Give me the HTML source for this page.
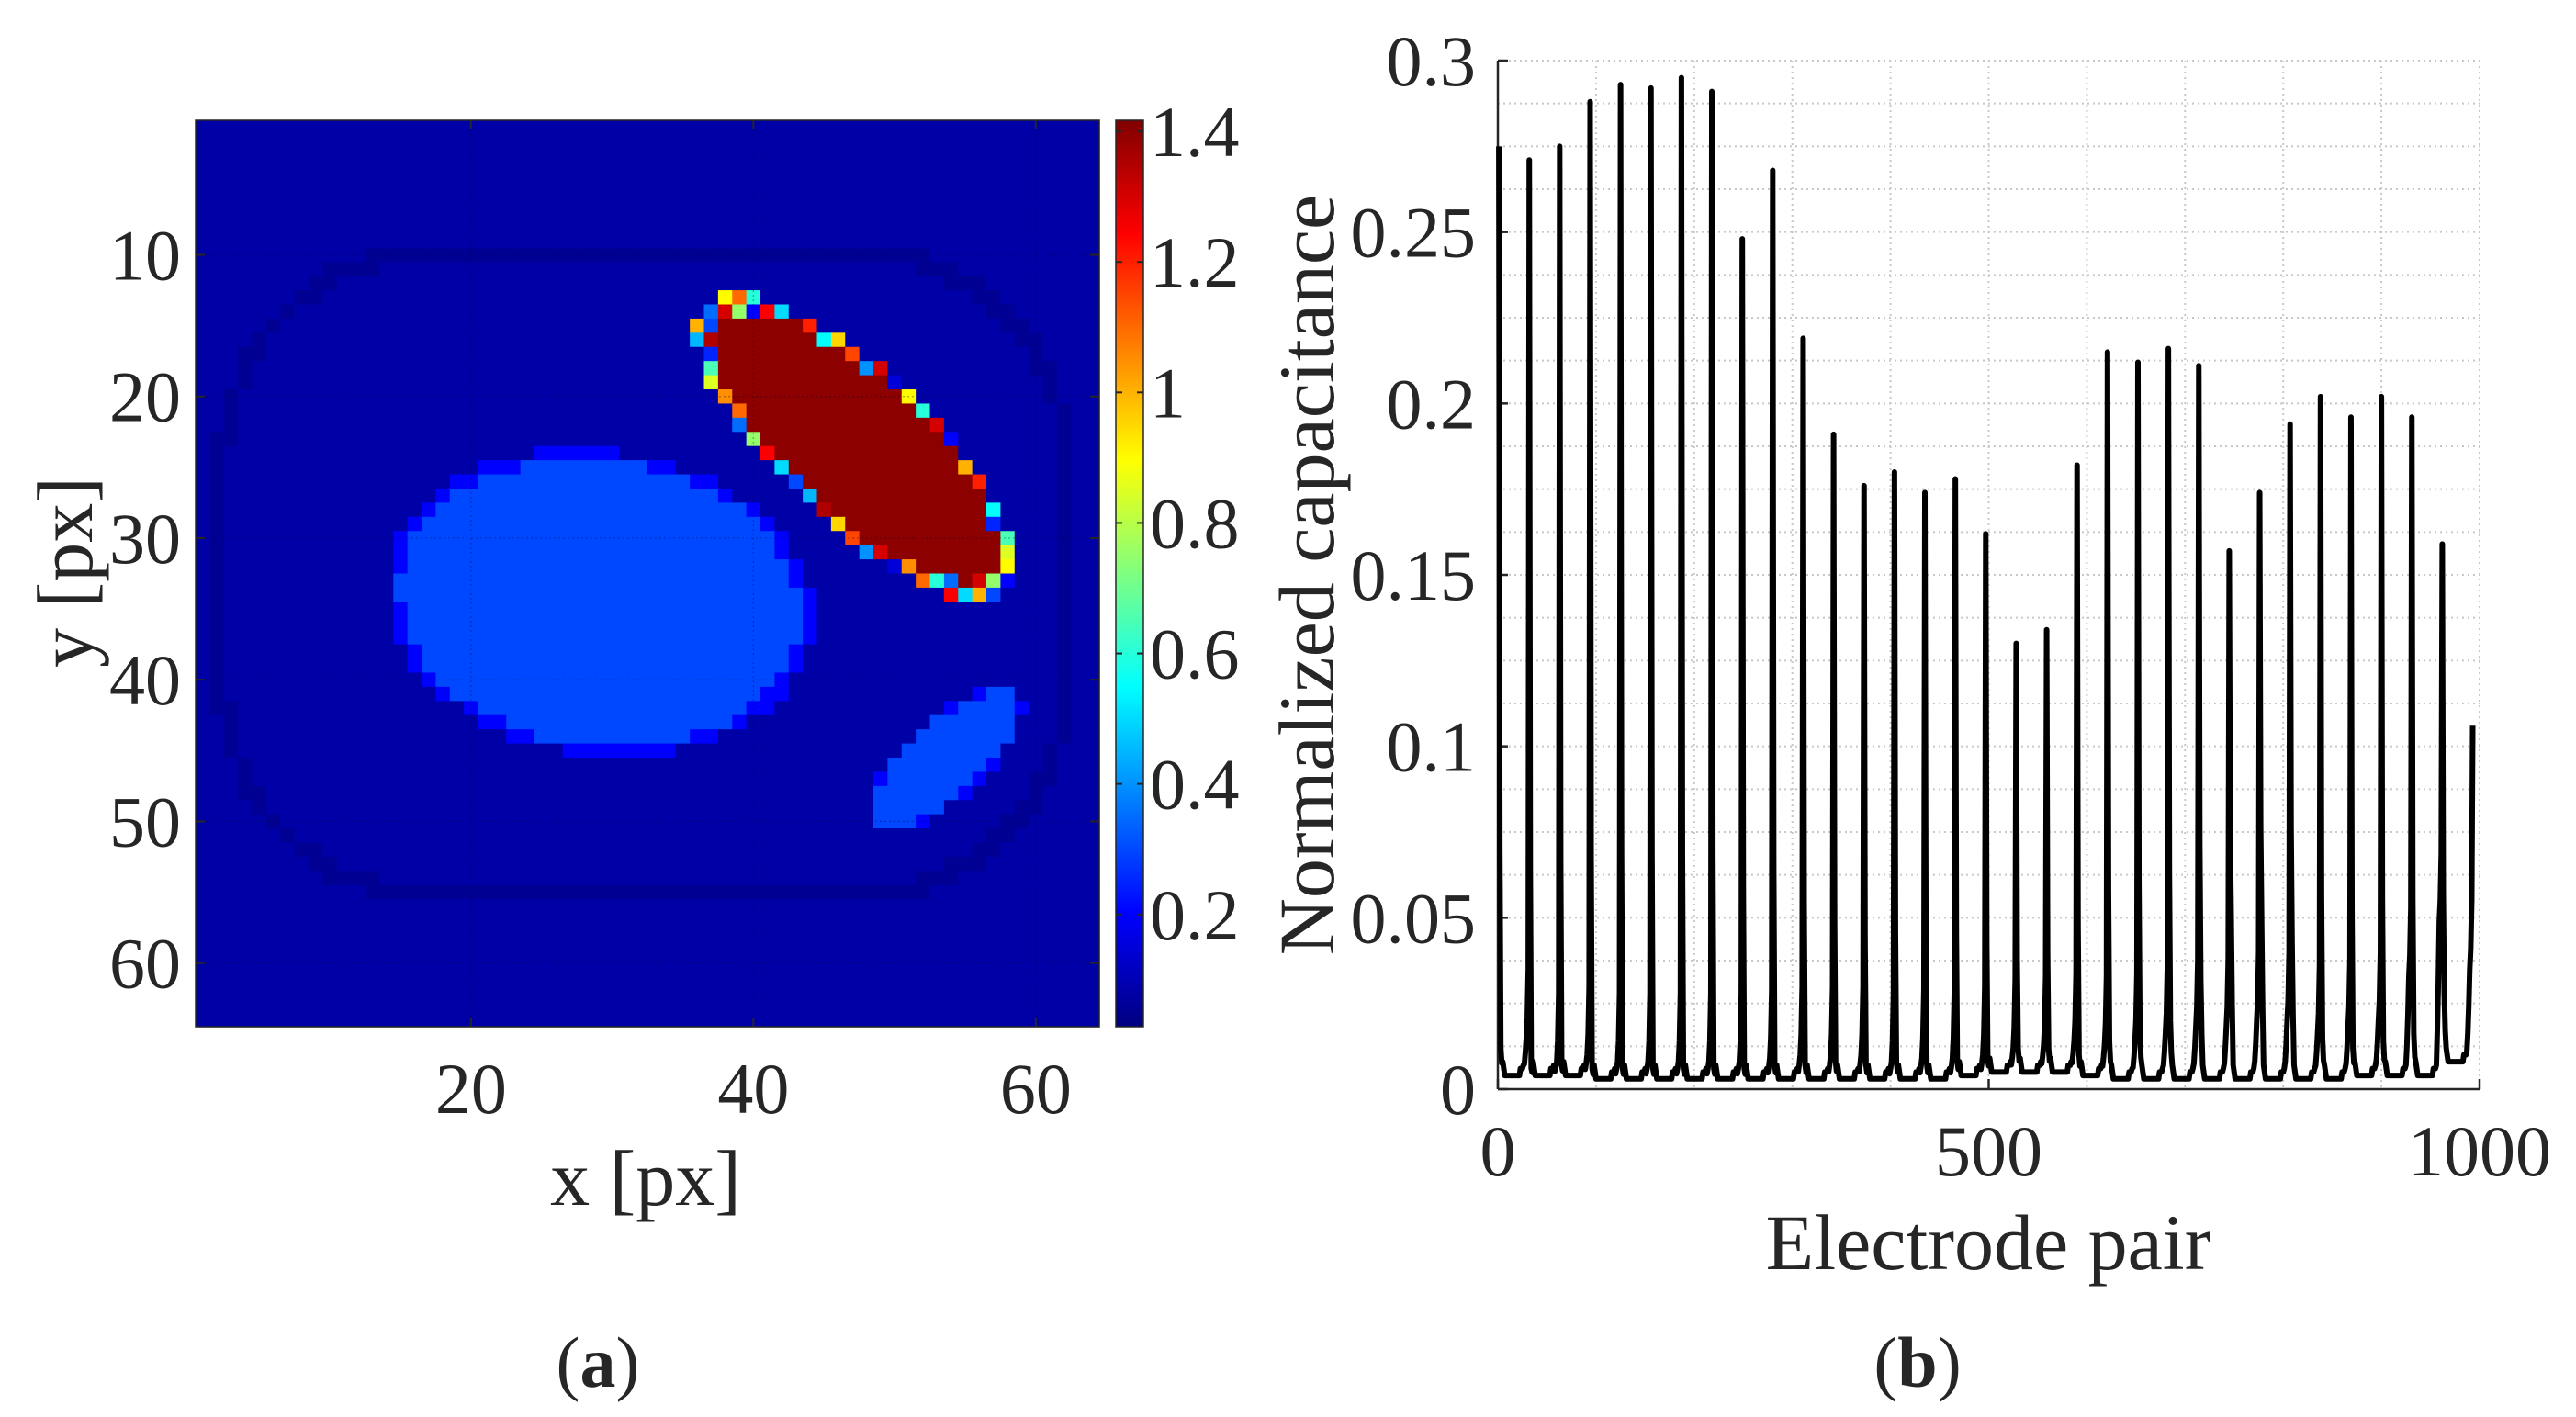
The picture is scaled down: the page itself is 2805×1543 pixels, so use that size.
<!DOCTYPE html>
<html><head><meta charset="utf-8">
<style>
html,body{margin:0;padding:0;background:#fff;}
svg{display:block;}
text{font-family:"Liberation Serif",serif;fill:#262626;}
</style></head>
<body>
<svg id="fig" width="2805" height="1543" viewBox="0 0 2805 1543" xmlns="http://www.w3.org/2000/svg">
  <g id="heat"></g>
  <defs>
    <linearGradient id="jetgrad" x1="0" y1="1" x2="0" y2="0">
      <stop offset="0" stop-color="#000080"/>
      <stop offset="0.125" stop-color="#0000ff"/>
      <stop offset="0.375" stop-color="#00ffff"/>
      <stop offset="0.625" stop-color="#ffff00"/>
      <stop offset="0.875" stop-color="#ff0000"/>
      <stop offset="1" stop-color="#800000"/>
    </linearGradient>
  </defs>
  <rect x="1215" y="131" width="30" height="987" fill="url(#jetgrad)" stroke="#262626" stroke-width="1.5"/>
  <g id="cbticks"></g>
  <text x="703" y="1312" font-size="86" text-anchor="middle">x [px]</text>
  <text transform="translate(100,623) rotate(-90)" font-size="86" text-anchor="middle">y [px]</text>
  <text x="651" y="1510" font-size="78" text-anchor="middle">(<tspan font-weight="bold">a</tspan>)</text>

  <g id="line"></g>
  <text x="2165" y="1382" font-size="86" text-anchor="middle">Electrode pair</text>
  <text transform="translate(1452,626) rotate(-90)" font-size="86" text-anchor="middle">Normalized capacitance</text>
  <text x="2088" y="1510" font-size="78" text-anchor="middle">(<tspan font-weight="bold">b</tspan>)</text>
</svg>
<script>
// ---------- heatmap data ----------
const gridSize = 64;
const backgroundValue = 0.082;
const ringValue = 0.055;
const ringRect = [2.2, 10.0, 62.4, 55.0, 14, 16]; // x0,y0,x1,y1,rx,ry (cells)
const inclusionNames = ['large-ellipse','small-ellipse','red-ellipse'];
const inclusionCenters = [[29.1,34.6],[53.6,45.6],[47.3,23.6]];
const inclusionAxes = [[14.3,10.1],[6.6,2.6],[12.9,4.7]];
const inclusionAngles = [8,-42,43];
const inclusionValues = [0.3,0.3,1.4];
const edgeValues = [0.9,1.1,0.6,0.35,1.3,0.75,0.2,1.25,0.5,1.0,0.3,1.2,0.45,1.35,0.55,0.95,0.25,1.15,0.65,0.4,1.3,0.85,0.15,1.05];
const xTicksA = [20,40,60];
const yTicksA = [10,20,30,40,50,60];
const cbTicks = [0.2,0.4,0.6,0.8,1,1.2,1.4];
const cbLabels = ['0.2','0.4','0.6','0.8','1','1.2','1.4'];
const cMin = 0.028, cMax = 1.417;

// ---------- line data ----------
const peakValues = [0.275,0.271,0.275,0.288,0.293,0.292,0.295,0.291,0.248,0.268,0.219,0.191,0.176,0.180,0.174,0.178,0.162,0.130,0.134,0.182,0.215,0.212,0.216,0.211,0.157,0.174,0.194,0.202,0.196,0.202,0.196,0.159,0.106];
const postValues = [0.012,0.006,0.007,0.006,0.006,0.006,0.006,0.006,0.006,0.007,0.007,0.008,0.007,0.008,0.007,0.008,0.009,0.012,0.012,0.010,0.014,0.017,0.020,0.032,0.050,0.049,0.043,0.015,0.012,0.014,0.016,0.028];
const preValues = [0.015,0.008,0.010,0.008,0.008,0.008,0.008,0.008,0.009,0.010,0.010,0.010,0.008,0.009,0.009,0.010,0.012,0.013,0.014,0.013,0.014,0.016,0.018,0.018,0.020,0.020,0.016,0.018,0.020,0.033,0.049,0.035];
const baseValues = [0.004,0.004,0.004,0.003,0.003,0.003,0.003,0.003,0.003,0.003,0.003,0.003,0.003,0.003,0.003,0.004,0.005,0.005,0.005,0.004,0.003,0.003,0.003,0.003,0.003,0.003,0.003,0.003,0.004,0.004,0.004,0.008];
const xTicksB = [0,500,1000];
const yTicksB = [0,0.05,0.1,0.15,0.2,0.25,0.3];
const yTickLabelsB = ['0','0.05','0.1','0.15','0.2','0.25','0.3'];

const NS = 'http://www.w3.org/2000/svg';
function mk(tag, attrs, parent){const e=document.createElementNS(NS,tag);for(const k in attrs)e.setAttribute(k,attrs[k]);parent.appendChild(e);return e;}

function jet(v){
  let t=(v-cMin)/(cMax-cMin); t=Math.max(0,Math.min(1,t));
  const f=(x)=>Math.max(0,Math.min(1,x));
  const r=f(Math.min(4*t-1.5,-4*t+4.5)), g=f(Math.min(4*t-0.5,-4*t+3.5)), b=f(Math.min(4*t+0.5,-4*t+2.5));
  return 'rgb('+Math.round(r*255)+','+Math.round(g*255)+','+Math.round(b*255)+')';
}

// ---------- heatmap ----------
const hx0=213, hy0=131, hx1=1197, hy1=1118;
const cw=(hx1-hx0)/gridSize, ch=(hy1-hy0)/gridSize;
const xA = c => hx0 + (c-0.5)*cw;
const yA = r => hy0 + (r-0.5)*ch;
const heat=document.getElementById('heat');
function ellVal(i,c,r){
  const [cx,cy]=inclusionCenters[i],[a,b]=inclusionAxes[i],th=inclusionAngles[i]*Math.PI/180;
  const dx=c-cx, dy=r-cy;
  const u=dx*Math.cos(th)+dy*Math.sin(th), w=-dx*Math.sin(th)+dy*Math.cos(th);
  return Math.sqrt((u/a)**2+(w/b)**2);
}
function ringDist(c,r){
  const [x0,y0,x1,y1,rx,ry]=ringRect;
  const ix0=x0+rx, ix1=x1-rx, iy0=y0+ry, iy1=y1-ry;
  const px=Math.max(ix0,Math.min(ix1,c)), py=Math.max(iy0,Math.min(iy1,r));
  const dx=c-px, dy=r-py;
  if(dx!==0 && dy!==0){const e=Math.sqrt((dx/rx)**2+(dy/ry)**2);return Math.abs(e-1)*Math.min(rx,ry);}
  if(dx!==0) return Math.abs(Math.abs(dx)-rx);
  if(dy!==0) return Math.abs(Math.abs(dy)-ry);
  return 99;
}
let edgeIdx=0;
for(let r=1;r<=gridSize;r++){
  for(let c=1;c<=gridSize;c++){
    let v=backgroundValue;
    if(ringDist(c,r)<0.55) v=ringValue;
    for(let i=0;i<2;i++){const e=ellVal(i,c,r); if(e<=1) v=inclusionValues[i]; else if(e<1.06) v=0.2;}
    const e2=ellVal(2,c,r);
    if(e2<=1) v=inclusionValues[2];
    else if(e2<1.14){v=edgeValues[edgeIdx%edgeValues.length];edgeIdx++;}
    const cell=mk('rect',{x:(xA(c)-cw/2).toFixed(2),y:(yA(r)-ch/2).toFixed(2),width:(cw+0.6).toFixed(2),height:(ch+0.6).toFixed(2),fill:jet(v)},heat);
    
    
  }
}
mk('rect',{x:hx0,y:hy0,width:hx1-hx0,height:hy1-hy0,fill:'none',stroke:'#262626','stroke-width':1.5},heat);
xTicksA.forEach(t=>{
  const x=xA(t);
  mk('line',{x1:x,y1:hy0,x2:x,y2:hy1,stroke:'#000040','stroke-width':1.2,'stroke-dasharray':'2 3',opacity:0.35},heat);
  mk('line',{x1:x,y1:hy1,x2:x,y2:hy1-10,stroke:'#262626','stroke-width':2},heat);
  mk('line',{x1:x,y1:hy0,x2:x,y2:hy0+10,stroke:'#262626','stroke-width':2},heat);
  const tl=mk('text',{x:x,y:1212,'font-size':78,'text-anchor':'middle'},heat);
  tl.textContent=t;
  
  
});
yTicksA.forEach(t=>{
  const y=yA(t);
  mk('line',{x1:hx0,y1:y,x2:hx1,y2:y,stroke:'#000040','stroke-width':1.2,'stroke-dasharray':'2 3',opacity:0.35},heat);
  mk('line',{x1:hx0,y1:y,x2:hx0+10,y2:y,stroke:'#262626','stroke-width':2},heat);
  mk('line',{x1:hx1,y1:y,x2:hx1-10,y2:y,stroke:'#262626','stroke-width':2},heat);
  const tl=mk('text',{x:197,y:y+27,'font-size':78,'text-anchor':'end'},heat);
  tl.textContent=t;
  
  
});
// colorbar ticks
const cbg=document.getElementById('cbticks');
const yCB = v => hy1 - (v-cMin)/(cMax-cMin)*(hy1-hy0);
cbTicks.forEach((t,i)=>{
  const y=yCB(t);
  mk('line',{x1:1245,y1:y,x2:1238,y2:y,stroke:'#262626','stroke-width':2},cbg);
  mk('line',{x1:1215,y1:y,x2:1222,y2:y,stroke:'#262626','stroke-width':2},cbg);
  const tl=mk('text',{x:1252,y:y+27,'font-size':78},cbg);
  tl.textContent=cbLabels[i];
  
  
});

// ---------- line chart ----------
const lx0=1631, lx1=2700, ly0=66, ly1=1186;
const xB = v => lx0 + v/1000*(lx1-lx0);
const yB = v => ly1 - v/0.3*(ly1-ly0);
const lg=document.getElementById('line');
for(let v=100; v<1000; v+=100){
  mk('line',{x1:xB(v),y1:ly0,x2:xB(v),y2:ly1,stroke:'#c8c8c8','stroke-width':2,'stroke-dasharray':'2 4'},lg);
}
for(let v=0.0125; v<0.3; v+=0.0125){
  mk('line',{x1:lx0,y1:yB(v),x2:lx1,y2:yB(v),stroke:'#c8c8c8','stroke-width':2,'stroke-dasharray':'2 4'},lg);
}
mk('line',{x1:lx0,y1:ly0,x2:lx1,y2:ly0,stroke:'#c8c8c8','stroke-width':2,'stroke-dasharray':'2 4'},lg);
mk('line',{x1:lx1,y1:ly0,x2:lx1,y2:ly1,stroke:'#c8c8c8','stroke-width':2,'stroke-dasharray':'2 4'},lg);
mk('line',{x1:lx0,y1:ly0,x2:lx0,y2:ly1,stroke:'#262626','stroke-width':2.5},lg);
mk('line',{x1:lx0,y1:ly1,x2:lx1,y2:ly1,stroke:'#262626','stroke-width':2.5},lg);
xTicksB.forEach(t=>{
  mk('line',{x1:xB(t),y1:ly1,x2:xB(t),y2:ly1-11,stroke:'#262626','stroke-width':2.5},lg);
  const tl=mk('text',{x:xB(t),y:1280,'font-size':78,'text-anchor':'middle'},lg);
  tl.textContent=t;
  
  
});
yTicksB.forEach((t,i)=>{
  mk('line',{x1:lx0,y1:yB(t),x2:lx0+11,y2:yB(t),stroke:'#262626','stroke-width':2.5},lg);
  const tl=mk('text',{x:1607,y:yB(t)+27,'font-size':78,'text-anchor':'end'},lg);
  tl.textContent=yTickLabelsB[i];
  
  
});
// build series from arrays
const series=[];
const segLen=31;
for(let i=0;i<peakValues.length;i++){
  const p=peakValues[i];
  series.push(p);
  if(i===peakValues.length-1) break;
  const po=postValues[i], pr=preValues[i], b=baseValues[i];
  for(let k=1;k<segLen;k++){
    let v;
    if(k===1) v=po+(p-po)*0.22;
    else if(k===2) v=po;
    else if(k===3) v=b+(po-b)*0.45;
    else if(k===4) v=b+0.004;
    else if(k===5) v=b+0.002;
    else if(k<22) v=b;
    else if(k<25) v=b+0.002;
    else if(k===25) v=b+0.003;
    else if(k===26) v=b+(pr-b)*0.3;
    else if(k===27) v=b+(pr-b)*0.6;
    else if(k===28) v=pr;
    else if(k===29) v=pr+0.006;
    else v=pr+0.02;
    series.push(v);
  }
}
let d='';
series.forEach((v,i)=>{d+=(i?'L':'M')+xB(i+1).toFixed(2)+' '+yB(v).toFixed(2);});
const path=mk('path',{d:d,fill:'none',stroke:'#000','stroke-width':6,'stroke-linejoin':'round'},lg);


</script>
</body></html>
